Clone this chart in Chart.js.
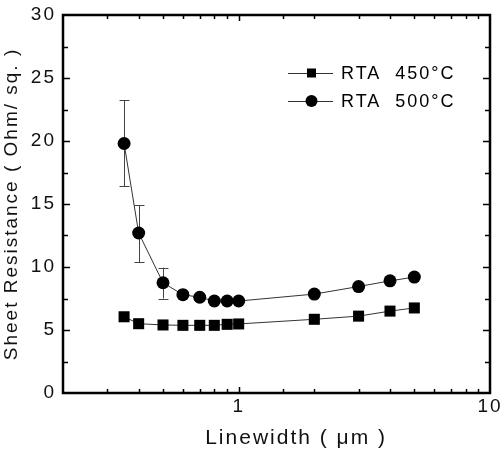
<!DOCTYPE html>
<html lang="en">
<head>
    <meta charset="UTF-8">
    <title>Sheet Resistance vs Linewidth</title>
    <script src="https://cdn.jsdelivr.net/npm/chart.js"></script>
    <style>
        body {
            margin: 0;
            background: #fff;
        }

        .chart-box {
            width: 501px;
            height: 456px;
        }
    </style>
</head>
<body>
    <div class="chart-box">
        <canvas id="sheetChart"></canvas>
    </div>

    <script>
        // linewidth in um
        const linewidths = [0.35, 0.4, 0.5, 0.6, 0.7, 0.8, 0.9, 1, 2, 3, 4, 5];
        const rta450 = [6.05, 5.5, 5.4, 5.37, 5.37, 5.37, 5.45, 5.48, 5.85, 6.1, 6.5, 6.75];
        const rta500 = [19.8, 12.7, 8.75, 7.8, 7.6, 7.3, 7.3, 7.3, 7.85, 8.45, 8.9, 9.2];
        // error bars on the 500C series (null = none)
        const err500Low = [16.4, 10.4, 7.5, null, null, null, null, null, null, null, null, null];
        const err500High = [23.25, 14.9, 9.95, null, null, null, null, null, null, null, null, null];
        const seriesLabels = ['RTA  450\u00B0C', 'RTA  500\u00B0C'];
        const xTickLabels = [1, 10];
        const yTickLabels = [0, 5, 10, 15, 20, 25, 30];

        const FONT = "'Liberation Sans', Arial, sans-serif";
        const SPACING = '2px';

        function toPoints(ys) {
            return linewidths.map((x, i) => ({ x: x, y: ys[i] }));
        }

        // canvas text in the original is quite wide, so spread the letters a bit
        const spacingPlugin = {
            id: 'spacing',
            beforeUpdate(chart) { chart.ctx.letterSpacing = SPACING; },
            beforeLayout(chart) { chart.ctx.letterSpacing = SPACING; },
            beforeDraw(chart) { chart.ctx.letterSpacing = SPACING; }
        };

        const errorBarPlugin = {
            id: 'errorBars',
            beforeDatasetsDraw(chart) {
                const ctx = chart.ctx;
                const xs = chart.scales.x, ys = chart.scales.y;
                ctx.save();
                ctx.strokeStyle = '#444';
                ctx.lineWidth = 1;
                linewidths.forEach((x, i) => {
                    if (err500Low[i] == null) return;
                    const px = Math.round(xs.getPixelForValue(x)) + 0.5;
                    const lo = ys.getPixelForValue(err500Low[i]);
                    const hi = ys.getPixelForValue(err500High[i]);
                    ctx.beginPath();
                    ctx.moveTo(px, lo); ctx.lineTo(px, hi);
                    ctx.moveTo(px - 5, Math.round(lo) + 0.5); ctx.lineTo(px + 5, Math.round(lo) + 0.5);
                    ctx.moveTo(px - 5, Math.round(hi) + 0.5); ctx.lineTo(px + 5, Math.round(hi) + 0.5);
                    ctx.stroke();
                });
                ctx.restore();
            }
        };

        // box frame plus inward ticks on all four sides
        const framePlugin = {
            id: 'frame',
            afterDraw(chart) {
                const ctx = chart.ctx;
                const a = chart.chartArea;
                const xs = chart.scales.x, ys = chart.scales.y;
                ctx.save();
                ctx.strokeStyle = '#000';
                ctx.lineWidth = 1.5;
                ctx.beginPath();
                xs.ticks.forEach(t => {
                    if (t.value <= xs.min || t.value >= xs.max) return;
                    const px = Math.round(xs.getPixelForValue(t.value)) + 0.5;
                    const len = xTickLabels.includes(t.value) ? 6 : 4;
                    ctx.moveTo(px, a.bottom); ctx.lineTo(px, a.bottom - len);
                    ctx.moveTo(px, a.top); ctx.lineTo(px, a.top + len);
                });
                ys.ticks.forEach(t => {
                    if (t.value <= ys.min || t.value >= ys.max) return;
                    const py = Math.round(ys.getPixelForValue(t.value)) + 0.5;
                    const len = yTickLabels.includes(t.value) ? 7 : 5;
                    ctx.moveTo(a.left, py); ctx.lineTo(a.left + len, py);
                    ctx.moveTo(a.right, py); ctx.lineTo(a.right - len, py);
                });
                ctx.stroke();
                ctx.lineWidth = 2.5;
                ctx.strokeRect(a.left, a.top, a.right - a.left, a.bottom - a.top);
                ctx.restore();
            }
        };

        // legend: line with marker in the middle, then the label
        const legendPlugin = {
            id: 'boxLegend',
            afterDraw(chart) {
                const ctx = chart.ctx;
                ctx.save();
                ctx.letterSpacing = '2px';
                ctx.font = '18px ' + FONT;
                ctx.textBaseline = 'middle';
                chart.data.datasets.forEach((ds, i) => {
                    const y = 73 + i * 28;
                    ctx.strokeStyle = '#333';
                    ctx.lineWidth = 1;
                    ctx.beginPath();
                    ctx.moveTo(288, y + 0.5); ctx.lineTo(333, y + 0.5);
                    ctx.stroke();
                    ctx.fillStyle = '#000';
                    if (ds.pointStyle === 'rect') {
                        ctx.fillRect(307, y - 4.5, 9, 9);
                    } else {
                        ctx.beginPath();
                        ctx.arc(311.5, y, 6, 0, Math.PI * 2);
                        ctx.fill();
                    }
                    ctx.fillText(ds.label, 341, y + 1);
                });
                ctx.restore();
            }
        };

        const ctx = document.getElementById('sheetChart').getContext('2d');
        new Chart(ctx, {
            type: 'line',
            data: {
                datasets: [
                    {
                        label: seriesLabels[0],
                        data: toPoints(rta450),
                        borderColor: '#333',
                        borderWidth: 1,
                        pointStyle: 'rect',
                        pointRadius: 7.8,
                        pointBackgroundColor: '#000',
                        pointBorderWidth: 0,
                        tension: 0
                    },
                    {
                        label: seriesLabels[1],
                        data: toPoints(rta500),
                        borderColor: '#333',
                        borderWidth: 1,
                        pointStyle: 'circle',
                        pointRadius: 6.5,
                        pointBackgroundColor: '#000',
                        pointBorderWidth: 0,
                        tension: 0
                    }
                ]
            },
            options: {
                responsive: true,
                maintainAspectRatio: false,
                animation: false,
                layout: {
                    padding: { top: 15, right: 11, left: 0, bottom: 0 }
                },
                plugins: {
                    legend: { display: false },
                    tooltip: { enabled: false }
                },
                scales: {
                    x: {
                        type: 'logarithmic',
                        min: 0.2,
                        max: 10,
                        border: { display: false },
                        grid: { display: false, drawTicks: false },
                        ticks: {
                            autoSkip: false,
                            maxRotation: 0,
                            padding: 2,
                            color: '#111',
                            font: { family: FONT, size: 19 },
                            callback: v => xTickLabels.includes(v) ? String(v) : ''
                        },
                        title: {
                            display: true,
                            text: '     Linewidth ( \u03BCm )',
                            color: '#111',
                            font: { family: FONT, size: 21 },
                            padding: { top: 0, bottom: 5 }
                        },
                        afterFit(scale) {
                            scale.height = 63;
                            scale.paddingLeft = 0;
                            scale.paddingRight = 0;
                        }
                    },
                    y: {
                        min: 0,
                        max: 30,
                        border: { display: false },
                        grid: { display: false, drawTicks: false },
                        ticks: {
                            stepSize: 2.5,
                            autoSkip: false,
                            padding: 7,
                            color: '#111',
                            font: { family: FONT, size: 19 },
                            callback: v => yTickLabels.includes(v) ? String(v) : ''
                        },
                        title: {
                            display: true,
                            text: 'Sheet Resistance ( Ohm/ sq. )',
                            color: '#111',
                            font: { family: FONT, size: 19 },
                            padding: { top: 0, bottom: 0 }
                        },
                        afterFit(scale) {
                            scale.width = 63;
                            scale.paddingTop = 0;
                            scale.paddingBottom = 0;
                        }
                    }
                }
            },
            plugins: [spacingPlugin, errorBarPlugin, framePlugin, legendPlugin]
        });
    </script>
</body>
</html>
